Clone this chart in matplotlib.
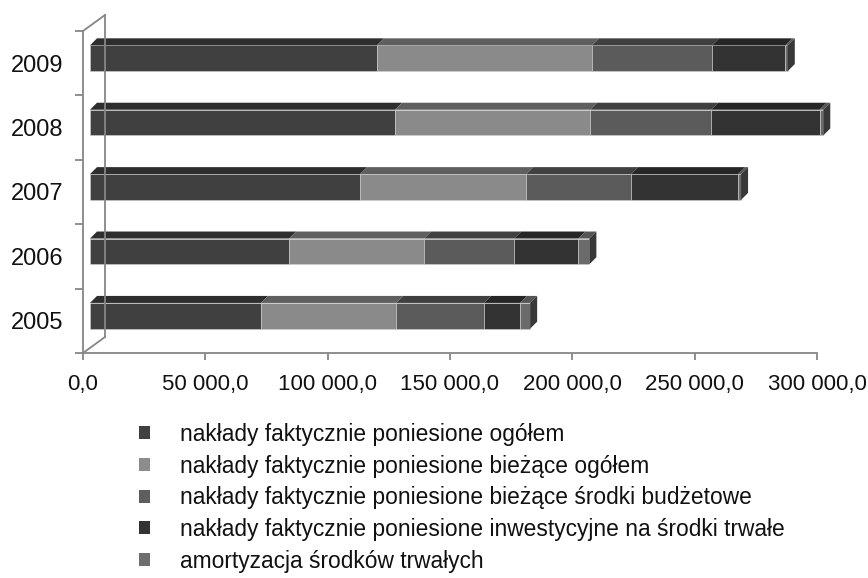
import matplotlib
matplotlib.use("Agg")
import matplotlib.pyplot as plt
import matplotlib.transforms as mtransforms
from matplotlib.patches import Polygon, Patch
from matplotlib.ticker import FuncFormatter

plt.rcParams['font.family'] = ['Liberation Sans', 'DejaVu Sans']

# data
years = ['2005', '2006', '2007', '2008', '2009']
ogolem = [69900, 81400, 110400, 124700, 117300]
biezace = [55200, 55200, 67900, 79700, 87900]
budzetowe = [36000, 36800, 42900, 49500, 49100]
inwestycyjne = [14700, 26200, 43700, 44300, 29900]
amortyzacja = [4100, 4500, 1200, 1500, 1000]
series = [ogolem, biezace, budzetowe, inwestycyjne, amortyzacja]
labels = ['nakłady faktycznie poniesione ogółem',
          'nakłady faktycznie poniesione bieżące ogółem',
          'nakłady faktycznie poniesione bieżące środki budżetowe',
          'nakłady faktycznie poniesione inwestycyjne na środki trwałe',
          'amortyzacja środków trwałych']
front = ['#404040', '#8a8a8a', '#5b5b5b', '#333333', '#6b6b6b']
top = ['#2e2e2e', '#5f5f5f', '#404040', '#262626', '#555555']
side = '#383838'
axis_col = '#868686'

W, H = 868, 578
fig = plt.figure(figsize=(W / 100, H / 100), dpi=100)
ax = fig.add_axes([83 / W, 1 - 353 / H, 734 / W, 322 / H])
ax.set_xlim(0, 300000)
ax.set_ylim(-0.5, 4.5)

# bars sit a bit inside the 3D box
front_tr = ax.transData + mtransforms.ScaledTranslation(0.07, 0.05, fig.dpi_scale_trans)
depth = (7, 7)  # pixels
bh = 0.4

left = [0] * len(years)
for vals, fc, tc, lab in zip(series, front, top, labels):
    ax.barh(range(len(years)), vals, height=bh, left=left, color=fc,
            edgecolor='#d0d0d0', linewidth=0.4, transform=front_tr, label=lab,
            clip_on=False)
    for i, v in enumerate(vals):
        l, r = left[i], left[i] + v
        p = front_tr.transform([(l, i + bh / 2), (r, i + bh / 2)])
        pts = [p[0], p[1], p[1] + depth, p[0] + depth]
        ax.add_patch(Polygon(pts, closed=True, facecolor=tc, edgecolor='none',
                             transform=mtransforms.IdentityTransform(), clip_on=False))
    left = [a + b for a, b in zip(left, vals)]

# right end faces
for i, r in enumerate(left):
    p = front_tr.transform([(r, i - bh / 2), (r, i + bh / 2)])
    pts = [p[0], p[0] + depth, p[1] + depth, p[1]]
    ax.add_patch(Polygon(pts, closed=True, facecolor=side, edgecolor='none',
                         transform=mtransforms.IdentityTransform(), clip_on=False))

# axes styling
for s in ['top', 'right']:
    ax.spines[s].set_visible(False)
for s in ['left', 'bottom']:
    ax.spines[s].set_color(axis_col)
    ax.spines[s].set_linewidth(1.3)

ax.set_xticks(range(0, 300001, 50000))
ax.xaxis.set_major_formatter(FuncFormatter(
    lambda v, _: f"{v:,.1f}".replace(',', ' ').replace('.', ',')))
ax.tick_params(axis='x', length=5, width=1.3, color=axis_col, pad=10,
               labelsize=16, labelcolor='#111111')

ax.set_yticks(range(len(years)))
ax.set_yticklabels(years)
ax.set_yticks([k - 0.5 for k in range(len(years) + 1)], minor=True)
ax.tick_params(axis='y', which='major', length=0, pad=14, labelsize=17,
               labelcolor='#111111')
ax.tick_params(axis='y', which='minor', length=6, width=1.3, color=axis_col)

# back wall edge of the 3D box
dxa, dya = 22 / ax.bbox.width, 16 / ax.bbox.height
for xs, ys in [([dxa, dxa], [dya, 1 + dya]), ([0, dxa], [0, dya]), ([0, dxa], [1, 1 + dya])]:
    ax.plot(xs, ys, color=axis_col, lw=1.3, transform=ax.transAxes, clip_on=False)

handles = [Patch(facecolor=c, edgecolor='none') for c in
           ['#404040', '#8c8c8c', '#5e5e5e', '#333333', '#6e6e6e']]
fig.legend(handles, labels, loc='upper left', bbox_to_anchor=(139 / W, 1 - 423 / H),
           frameon=False, fontsize=16.4, handlelength=0.5, handleheight=0.5,
           handletextpad=1.3, labelspacing=0.38, borderpad=0, borderaxespad=0,
           labelcolor='#111111')

fig.savefig('out.png', dpi=100)
